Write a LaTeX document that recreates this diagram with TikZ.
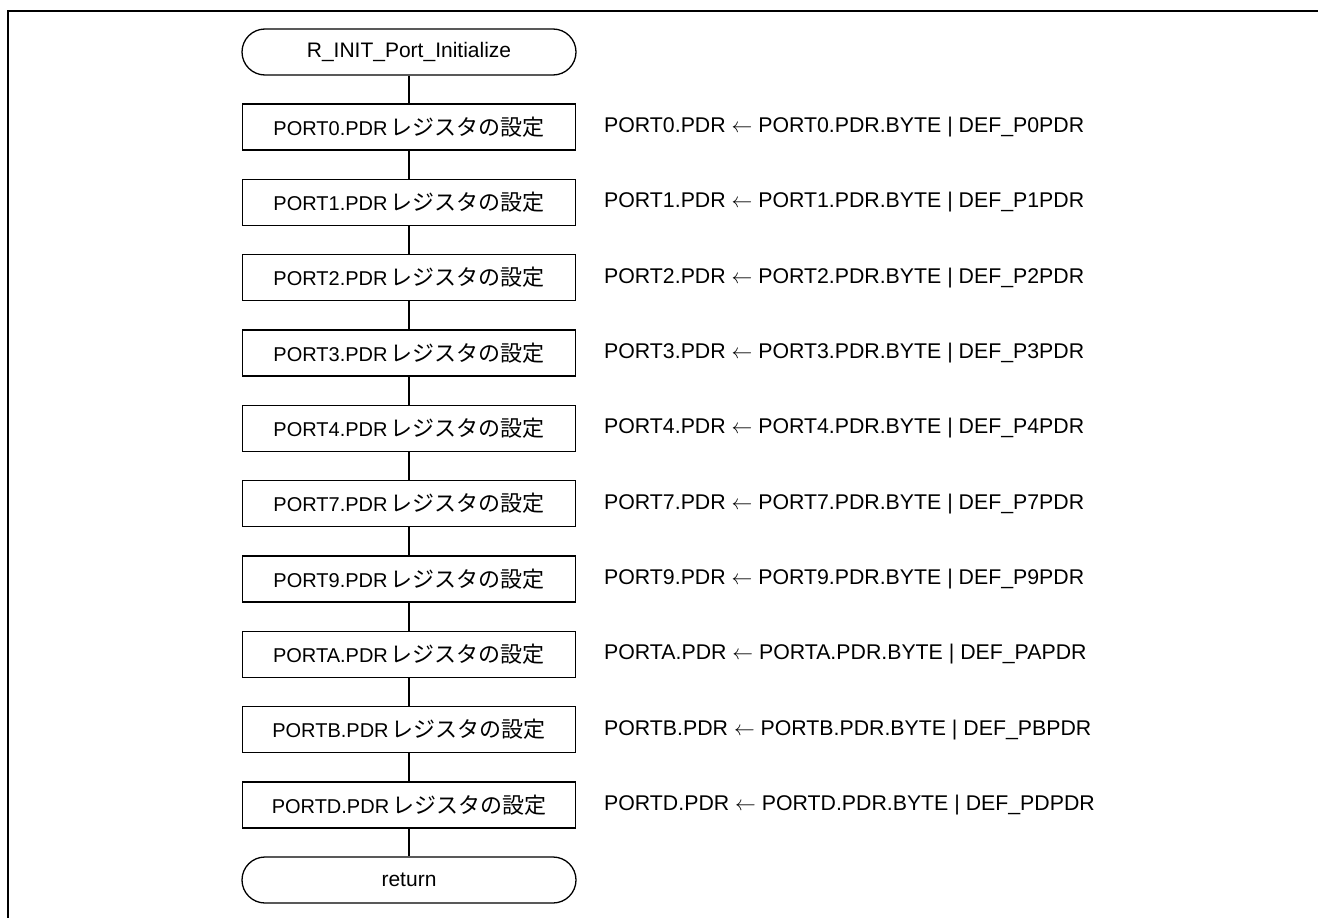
\documentclass[tikz,border=0pt]{standalone}
\usepackage{fontspec}
\setmainfont{Liberation Sans}
\newfontfamily\jpfont[Scale=1.1]{Noto Sans CJK JP}
\begin{document}
\begin{tikzpicture}[x=1pt,y=-1pt,
  term/.style={draw, line width=1.3pt, rounded corners=23pt, minimum width=334pt, minimum height=46pt, inner sep=0pt},
  proc/.style={draw, line width=1.3pt, minimum width=333pt, minimum height=46pt, inner sep=0pt, font=\fontsize{20}{24}\selectfont},
  note/.style={anchor=west, inner sep=0pt, font=\fontsize{21.3}{25}\selectfont},
  conn/.style={line width=1.3pt},
  frame/.style={line width=2pt},
  font=\fontsize{21}{25}\selectfont]
\useasboundingbox (0,0) rectangle (1318,918);
\draw[frame] (8,918) -- (8,11) -- (1318,11);
\node[term] (start) at (409,52) {R\_INIT\_Port\_Initialize};
\foreach \p [count=\i from 0] in {0,1,2,3,4,7,9,A,B,D} {
  \node[proc] (b\i) at (409,127+75.33*\i) {PORT\p.PDR\kern3pt{\jpfont レジスタの設定}};
  \node[note] (n\i) at (604,127+75.33*\i) {PORT\p.PDR $\leftarrow$ PORT\p.PDR.BYTE | DEF\_P\p PDR};
}
\node[term] (ret) at (409,880) {return};
\draw[conn] (start) -- (b0);
\foreach \i [evaluate=\i as \j using int(\i+1)] in {0,...,8} {
  \draw[conn] (b\i) -- (b\j);
}
\draw[conn] (b9) -- (ret);
\end{tikzpicture}
\end{document}
